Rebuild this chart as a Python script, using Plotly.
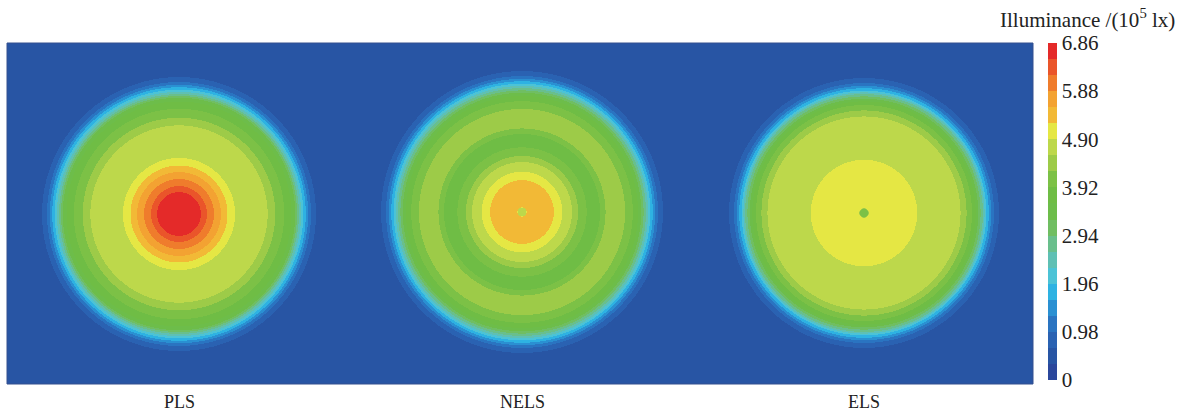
import numpy as np
import plotly.graph_objects as go

# Source names shown under each irradiated spot
sources = ["PLS", "NELS", "ELS"]

# Radial illuminance profiles: radius (mm) and illuminance (10^5 lx)
pls_r = [0, 20, 24, 30, 38, 45, 52, 60, 75, 88, 95, 102, 110, 116, 120, 124, 127, 131, 135, 140]
pls_lux = [6.80, 6.65, 6.40, 6.10, 5.75, 5.40, 5.05, 4.75, 4.70, 4.60, 4.30, 4.00, 3.80, 3.30, 2.60, 2.00, 1.60, 1.05, 0.75, 0.50]

nels_r = [0, 4, 5, 30, 33, 39, 42, 48, 52, 57, 62, 75, 80, 85, 100, 106, 114, 119, 124, 128, 131, 135, 139, 144]
nels_lux = [4.60, 4.60, 5.45, 5.45, 5.10, 5.00, 4.75, 4.70, 4.45, 4.20, 3.95, 3.80, 4.00, 4.35, 4.40, 4.10, 3.80, 3.30, 2.60, 2.00, 1.60, 1.05, 0.75, 0.50]

els_r = [0, 4, 5, 52, 55, 95, 100, 105, 110, 114, 119, 122, 125, 129, 133, 138]
els_lux = [4.00, 4.00, 5.00, 5.00, 4.75, 4.65, 4.40, 4.10, 3.80, 3.30, 2.60, 2.00, 1.60, 1.05, 0.75, 0.50]

# Colour-bar scale
tick_vals = [0, 0.98, 1.96, 2.94, 3.92, 4.90, 5.88, 6.86]
tick_text = ["0", "0.98", "1.96", "2.94", "3.92", "4.90", "5.88", "6.86"]

# Layout of the receiving plane (mm) and spot centres
plane_w, plane_h = 1026, 341
centres = [(172, 170), (515, 172), (857, 171)]
profiles = [(pls_r, pls_lux), (nels_r, nels_lux), (els_r, els_lux)]

x = np.arange(plane_w) + 0.5
y = np.arange(plane_h) + 0.5
X, Y = np.meshgrid(x, y)

fields = []
dists = []
for (cx, cy), (rr, vv) in zip(centres, profiles):
    d = np.hypot(X - cx, Y - cy)
    dists.append(d)
    fields.append(np.interp(d, rr, vv))
owner = np.argmin(np.stack(dists), axis=0)
Z = np.choose(owner, fields)
Z = np.round(Z, 3)

# 21 discrete bands, jet-like
band_colors = [
    "#2b479c", "#2855a4", "#2a62b2", "#2a74c1", "#2a90d2", "#2eb2e2", "#4cc3d6",
    "#5fc0b4", "#69bf8c", "#70be62", "#6dbd4a", "#6fbd45", "#7cc146", "#9dcb48",
    "#bdd84b", "#e5e744", "#f2b936", "#f3a232", "#ef7c2c", "#ea552a", "#e42a29",
]
n = len(band_colors)
colorscale = []
for i, c in enumerate(band_colors):
    colorscale.append([i / n, c])
    colorscale.append([(i + 1) / n, c])

serif = "Liberation Serif, Times New Roman, serif"

fig = go.Figure(
    go.Heatmap(
        x=x, y=y, z=Z,
        zmin=0, zmax=6.86,
        colorscale=colorscale,
        zsmooth=False,
        hoverinfo="skip",
        colorbar=dict(
            xref="container", x=1048 / 1179, xanchor="left",
            yref="paper", y=1, yanchor="top",
            lenmode="pixels", len=337,
            thickness=9,
            outlinewidth=0,
            xpad=0, ypad=0,
            tickvals=tick_vals, ticktext=tick_text,
            ticks="", ticklabeloverflow="allow",
            tickfont=dict(family=serif, size=21, color="#222222"),
        ),
    )
)

for name, (cx, cy) in zip(sources, centres):
    fig.add_annotation(
        x=cx, y=0, xref="x", yref="y", text=name, showarrow=False,
        yanchor="top", yshift=-6,
        font=dict(family=serif, size=18, color="#222222"),
    )

fig.add_annotation(
    xref="paper", yref="paper", x=1, y=1,
    xanchor="right", yanchor="top", xshift=144, yshift=40,
    text="Illuminance /(10<sup>5</sup> lx)", showarrow=False,
    font=dict(family=serif, size=21, color="#222222"),
)

fig.add_shape(
    type="rect", xref="paper", yref="paper", x0=0, y0=0, x1=1, y1=1,
    line=dict(color="#34508f", width=1),
)

fig.update_xaxes(visible=False, range=[0, plane_w])
fig.update_yaxes(visible=False, range=[0, plane_h])
fig.update_layout(
    width=1179, height=411,
    margin=dict(l=7, r=146, t=43, b=27),
    paper_bgcolor="white", plot_bgcolor="white",
    showlegend=False,
)

fig.write_html("out.html")
